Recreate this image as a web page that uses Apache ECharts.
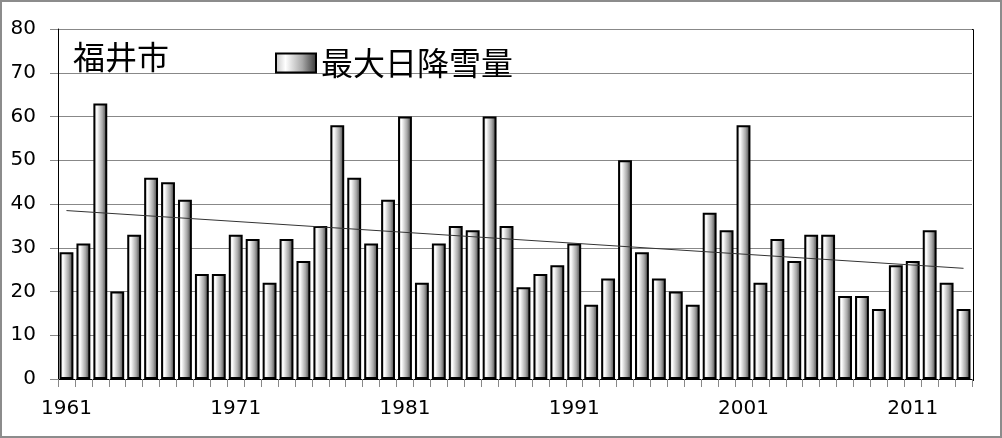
<!DOCTYPE html>
<html>
<head>
<meta charset="utf-8">
<script src="https://cdn.jsdelivr.net/npm/echarts@6/dist/echarts.min.js"></script>
<style>
  html, body { margin: 0; padding: 0; background: #fff; }
  #chart { width: 1002px; height: 438px; box-sizing: border-box; border: 2px solid #8c8c8c; }
</style>
</head>
<body>
<div id="chart"></div>
<script>
// 福井市 最大日降雪量 (cm)
const years = []
for (let y = 1961; y <= 2014; y++) years.push(String(y))

const snowfall = [
  29, 31, 63, 20, 33, 46, 45, 41, 24, 24,
  33, 32, 22, 32, 27, 35, 58, 46, 31, 41,
  60, 22, 31, 35, 34, 60, 35, 21, 24, 26,
  31, 17, 23, 50, 29, 23, 20, 17, 38, 34,
  58, 22, 32, 27, 33, 33, 19, 19, 16, 26,
  27, 34, 22, 16
]

// 線形近似の両端
const trendEnds = [38.5, 25.3]

const numFont = 'DejaVu Sans'
const jpFont = 'Noto Sans CJK JP'

const chart = echarts.init(document.getElementById('chart'))

const barFill = new echarts.graphic.LinearGradient(0, 0, 1, 0, [
  { offset: 0, color: '#c4c4c4' },
  { offset: 0.25, color: '#ffffff' },
  { offset: 0.65, color: '#a8a8a8' },
  { offset: 1, color: '#333333' }
])

const option = {
  animation: false,
  title: {
    text: '福井市',
    left: 66,
    top: 34,
    textStyle: { fontFamily: jpFont, fontSize: 32, fontWeight: 'normal', color: '#000' }
  },
  legend: {
    left: 268,
    top: 40,
    icon: 'rect',
    itemWidth: 40,
    itemHeight: 19,
    data: ['最大日降雪量'],
    textStyle: { fontFamily: jpFont, fontSize: 32, color: '#000' }
  },
  grid: {
    left: 56,
    right: 28,
    top: 27,
    bottom: 57
  },
  xAxis: {
    type: 'category',
    data: years,
    axisLine: { lineStyle: { color: '#000', width: 1 } },
    axisTick: { show: true, interval: 0, length: 8, lineStyle: { color: '#888' } },
    axisLabel: {
      interval: 9,
      margin: 20,
      fontFamily: numFont,
      fontSize: 20,
      color: '#000'
    },
    splitLine: { show: false }
  },
  yAxis: {
    type: 'value',
    min: 0,
    max: 80,
    interval: 10,
    axisLine: { show: true, lineStyle: { color: '#000', width: 1 } },
    axisTick: { show: true, length: 8, lineStyle: { color: '#888' } },
    axisLabel: {
      margin: 22,
      fontFamily: numFont,
      fontSize: 20,
      color: '#000'
    },
    splitLine: { lineStyle: { color: '#888', width: 1 } }
  },
  series: [
    {
      name: '最大日降雪量',
      type: 'bar',
      data: snowfall,
      barCategoryGap: '18%',
      itemStyle: {
        color: barFill,
        borderColor: '#000',
        borderWidth: 2
      },
      markLine: {
        silent: true,
        symbol: 'none',
        label: { show: false },
        lineStyle: { color: '#333', width: 1, type: 'solid' },
        data: [[
          { coord: [years[0], trendEnds[0]] },
          { coord: [years[years.length - 1], trendEnds[1]] }
        ]]
      }
    }
  ],
  graphic: [
    {
      // plot area frame (top and right edges)
      type: 'polyline',
      silent: true,
      shape: { points: [[56, 27.5], [971.5, 27.5], [971.5, 379]] },
      style: { stroke: '#000', lineWidth: 1, fill: null }
    }
  ]
}

chart.setOption(option)
</script>
</body>
</html>
